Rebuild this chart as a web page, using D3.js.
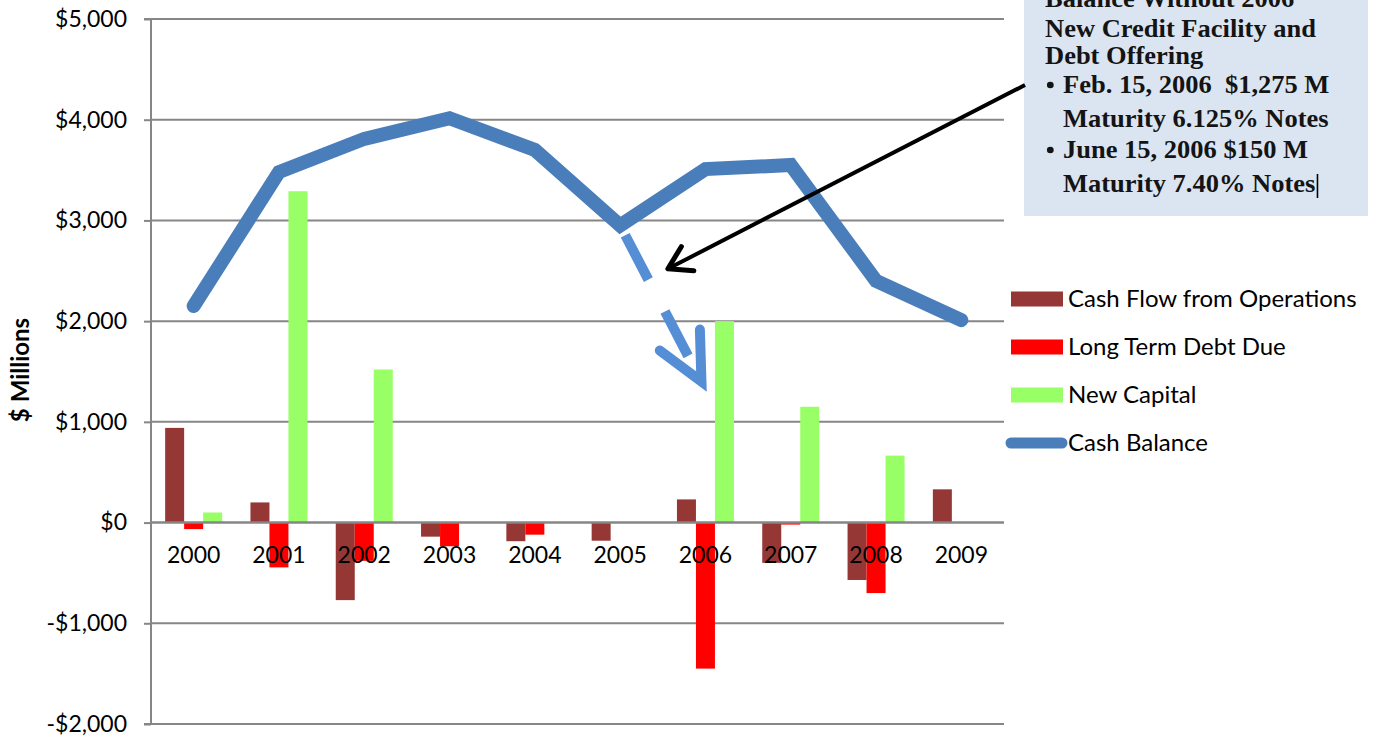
<!DOCTYPE html>
<html>
<head>
<meta charset="utf-8">
<script src="https://cdnjs.cloudflare.com/ajax/libs/d3/7.8.5/d3.min.js"></script>
<style>
  body { margin: 0; background: #fff; }
  svg { display: block; }
</style>
</head>
<body>
<div id="chart"></div>
<script>
// values, $ millions
const years = ['2000', '2001', '2002', '2003', '2004', '2005', '2006', '2007', '2008', '2009'];
const cashFlowOps = [940, 200, -770, -140, -185, -180, 230, -400, -570, 330];
const longTermDebt = [-65, -445, -380, -235, -120, 0, -1450, -20, -700, 0];
const newCapital = [100, 3290, 1520, 0, 0, 0, 2000, 1150, 665, 0];
const cashBalance = [2150, 3480, 3810, 4015, 3700, 2950, 3510, 3550, 2400, 2010];

// hypothetical balance without the 2006 offering (dashed arrow)
const altYears = ['2005', '2006'];
const altBalance = [2950, 1400];

const yTicks = [-2000, -1000, 0, 1000, 2000, 3000, 4000, 5000];
const barSeries = ['Cash Flow from Operations', 'Long Term Debt Due', 'New Capital'];
const lineSeries = 'Cash Balance';
const noteLines = [
  { text: 'Balance Without 2006', bullet: false },
  { text: 'New Credit Facility and', bullet: false },
  { text: 'Debt Offering', bullet: false },
  { text: 'Feb. 15, 2006\u00a0 $1,275 M', bullet: true },
  { text: 'Maturity 6.125% Notes', bullet: false, indent: true },
  { text: 'June 15, 2006 $150 M', bullet: true },
  { text: 'Maturity 7.40% Notes', bullet: false, indent: true }
];

const W = 1377, H = 740;
const plot = { left: 151, right: 1004, top: 19, bottom: 724 };
const colors = {
  'Cash Flow from Operations': '#953735',
  'Long Term Debt Due': '#ff0000',
  'New Capital': '#99ff66',
  'Cash Balance': '#4a7ebb'
};
const font = 'Lato, "Open Sans", sans-serif';

const svg = d3.select('#chart').append('svg')
  .attr('width', W).attr('height', H);

const x0 = d3.scaleBand().domain(years).range([plot.left, plot.right]);
const bw = x0.bandwidth();
const x1 = d3.scaleBand().domain(barSeries).range([bw / 2 - 28.5, bw / 2 + 28.5]);
const y = d3.scaleLinear().domain([-2000, 5000]).range([plot.bottom, plot.top]);

// gridlines
svg.append('g')
  .selectAll('line').data(yTicks.filter(d => d !== 0))
  .enter().append('line')
  .attr('x1', plot.left).attr('x2', plot.right)
  .attr('y1', d => y(d)).attr('y2', d => y(d))
  .attr('stroke', '#868686').attr('stroke-width', 2);

// bars
const barData = years.map((yr, i) => ({
  year: yr,
  values: [cashFlowOps[i], longTermDebt[i], newCapital[i]]
}));
svg.append('g')
  .selectAll('g').data(barData)
  .enter().append('g')
  .attr('transform', d => `translate(${x0(d.year)},0)`)
  .selectAll('rect').data(d => d.values.map((v, k) => ({ key: barSeries[k], v })))
  .enter().append('rect')
  .attr('x', d => x1(d.key))
  .attr('width', x1.bandwidth())
  .attr('y', d => y(Math.max(0, d.v)))
  .attr('height', d => Math.abs(y(d.v) - y(0)))
  .attr('fill', d => colors[d.key]);

// cash balance line
const cx = yr => x0(yr) + bw / 2;
svg.append('path')
  .datum(years.map((yr, i) => [cx(yr), y(cashBalance[i])]))
  .attr('d', d3.line())
  .attr('fill', 'none')
  .attr('stroke', colors['Cash Balance'])
  .attr('stroke-width', 14)
  .attr('stroke-linecap', 'round')
  .attr('stroke-linejoin', 'miter');

// y axis
svg.append('g')
  .attr('transform', `translate(${plot.left},0)`)
  .call(d3.axisLeft(y).tickValues(yTicks).tickSize(7).tickPadding(17)
    .tickFormat(d => (d < 0 ? '-$' : '$') + d3.format(',')(Math.abs(d))))
  .call(g => g.selectAll('line,path').attr('stroke', '#868686').attr('stroke-width', 2))
  .call(g => g.select('.domain').attr('d', `M-7,${plot.top}H0V${plot.bottom}H-7`))
  .call(g => g.selectAll('text').attr('font-family', font).attr('font-size', 23).attr('fill', '#000'));

// category axis at zero
svg.append('g')
  .attr('transform', `translate(0,${y(0)})`)
  .call(d3.axisBottom(x0).tickSize(0).tickPadding(24))
  .call(g => g.select('.domain').attr('d', `M${plot.left},0H${plot.right}`)
    .attr('stroke', '#868686').attr('stroke-width', 2.5))
  .call(g => g.selectAll('text').attr('font-family', font).attr('font-size', 23).attr('fill', '#000'));

// bottom border
svg.append('line')
  .attr('x1', plot.left - 7).attr('x2', plot.right)
  .attr('y1', plot.bottom).attr('y2', plot.bottom)
  .attr('stroke', '#868686').attr('stroke-width', 2);

// y title
svg.append('text')
  .attr('transform', `translate(29,370) rotate(-90)`)
  .attr('text-anchor', 'middle')
  .attr('font-family', font).attr('font-weight', 'bold').attr('font-size', 24)
  .text('$ Millions');

// legend
const legend = svg.append('g').attr('transform', 'translate(1011,299)');
const legRows = legend.selectAll('g').data(barSeries.concat([lineSeries]))
  .enter().append('g')
  .attr('transform', (d, i) => `translate(0,${i * 48})`);
legRows.filter(d => d !== lineSeries).append('rect')
  .attr('x', 0).attr('y', -7.5).attr('width', 52).attr('height', 15)
  .attr('fill', d => colors[d]);
legRows.filter(d => d === lineSeries).append('line')
  .attr('x1', 0).attr('x2', 51).attr('y1', 0).attr('y2', 0)
  .attr('stroke', colors[lineSeries]).attr('stroke-width', 11)
  .attr('stroke-linecap', 'round');
legRows.append('text')
  .attr('x', 57).attr('y', 8)
  .attr('font-family', font).attr('font-size', 24)
  .text(d => d);

// dashed "without offering" arrow
const a0 = [cx(altYears[0]), y(altBalance[0])];
const a1 = [cx(altYears[1]) - 4, y(altBalance[1])];
svg.append('line')
  .attr('x1', a0[0]).attr('y1', a0[1]).attr('x2', a1[0]).attr('y2', a1[1])
  .attr('stroke', '#558ed5').attr('stroke-width', 10)
  .attr('stroke-dasharray', '0,11,50,36,50,400');
const ang = Math.atan2(a1[1] - a0[1], a1[0] - a0[0]);
const wing = 52, spread = 0.45;
svg.append('path')
  .attr('d', d3.line()([
    [a1[0] - wing * Math.cos(ang - spread), a1[1] - wing * Math.sin(ang - spread)],
    a1,
    [a1[0] - wing * Math.cos(ang + spread), a1[1] - wing * Math.sin(ang + spread)]
  ]))
  .attr('fill', 'none').attr('stroke', '#558ed5').attr('stroke-width', 10)
  .attr('stroke-linecap', 'round').attr('stroke-linejoin', 'miter');

// note box
const box = { x: 1024, y: -10, w: 344, h: 226 };
svg.append('rect')
  .attr('x', box.x).attr('y', box.y).attr('width', box.w).attr('height', box.h)
  .attr('fill', '#dbe5f1');
const noteY = [7, 37, 64, 93, 127, 158, 192];
const note = svg.append('g')
  .attr('transform', 'translate(1045,0) scale(1.06,1)')
  .attr('font-family', '"Liberation Serif", "Times New Roman", serif')
  .attr('font-weight', 'bold').attr('font-size', 25).attr('fill', '#141414');
note.selectAll('text').data(noteLines)
  .enter().append('text')
  .attr('x', d => (d.bullet || d.indent) ? 17 : 0)
  .attr('y', (d, i) => noteY[i])
  .text(d => d.text);
note.selectAll('circle').data(noteLines.filter(d => d.bullet))
  .enter().append('circle')
  .attr('cx', 5)
  .attr('cy', d => noteY[noteLines.indexOf(d)] - 8)
  .attr('r', 3.2).attr('fill', '#141414');
// text cursor left in the note after the last line
const lastLine = note.selectAll('text').filter((d, i) => i === noteLines.length - 1);
const cursorX = 17 + lastLine.node().getComputedTextLength() + 2;
note.append('line')
  .attr('x1', cursorX).attr('x2', cursorX)
  .attr('y1', noteY[noteY.length - 1] - 18).attr('y2', noteY[noteY.length - 1] + 6)
  .attr('stroke', '#000').attr('stroke-width', 1.5);

// black pointer from note to the dashed arrow
const tip = [x0('2005') + bw * 1.06, y(2520)];
const tail = [box.x + 1, 85];
const pang = Math.atan2(tip[1] - tail[1], tip[0] - tail[0]);
svg.append('line')
  .attr('x1', tail[0]).attr('y1', tail[1]).attr('x2', tip[0]).attr('y2', tip[1])
  .attr('stroke', '#000').attr('stroke-width', 4);
svg.append('path')
  .attr('d', d3.line()([
    [tip[0] - 26 * Math.cos(pang - 0.55), tip[1] - 26 * Math.sin(pang - 0.55)],
    tip,
    [tip[0] - 26 * Math.cos(pang + 0.55), tip[1] - 26 * Math.sin(pang + 0.55)]
  ]))
  .attr('fill', 'none').attr('stroke', '#000').attr('stroke-width', 5)
  .attr('stroke-linecap', 'round').attr('stroke-linejoin', 'round');
</script>
</body>
</html>
